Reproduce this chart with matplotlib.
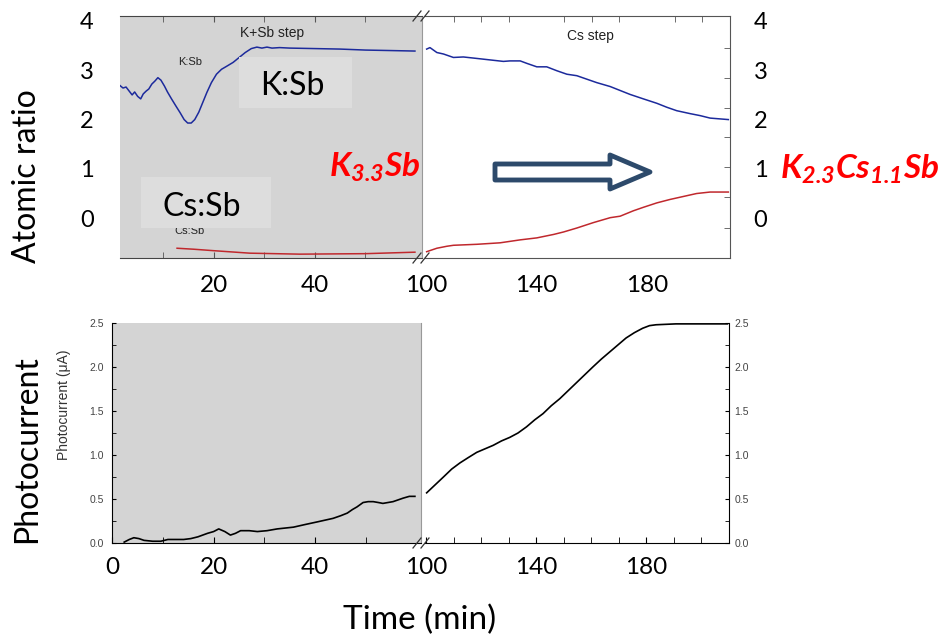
import numpy as np
import matplotlib.pyplot as plt
import matplotlib.patches as mpatches
from matplotlib.transforms import Affine2D
from matplotlib.lines import Line2D

plt.rcParams['mathtext.fontset'] = 'custom'
plt.rcParams['mathtext.rm'] = 'Lato:italic:bold'
plt.rcParams['mathtext.it'] = 'Lato:italic:bold'
plt.rcParams['mathtext.bf'] = 'Lato:italic:bold'

# K+Sb step, atomic ratio vs time (min)
ksb_t = [1.4, 2.0, 2.6, 3.2, 3.8, 4.3, 4.9, 5.5, 6.0, 6.6, 7.1, 7.7, 8.3, 8.9, 9.5, 10.2,
         10.8, 11.6, 12.5, 13.3, 14.1, 14.8, 15.5, 16.2, 17.0, 17.8, 18.6, 19.5, 20.5,
         21.5, 22.5, 23.8, 25.0, 26.2, 27.4, 28.5, 29.5, 30.5, 31.5, 33.0, 35.0, 40.0,
         45.0, 50.0, 55.0, 59.8]
ksb_k = [2.69, 2.64, 2.66, 2.58, 2.50, 2.56, 2.47, 2.42, 2.52, 2.58, 2.62, 2.72, 2.78,
         2.85, 2.80, 2.68, 2.56, 2.42, 2.27, 2.14, 2.00, 1.93, 1.93, 2.00, 2.15, 2.35,
         2.55, 2.75, 2.92, 3.02, 3.08, 3.16, 3.26, 3.36, 3.44, 3.47, 3.45, 3.47, 3.45,
         3.46, 3.45, 3.44, 3.43, 3.41, 3.40, 3.39]
ksb_cs_t = [12.7, 16.0, 20.0, 27.1, 37.0, 50.0, 59.8]
ksb_cs = [-0.61, -0.63, -0.66, -0.71, -0.73, -0.72, -0.69]

# Cs step
cs_t = [100.2, 101.4, 103.9, 106.3, 109.9, 113.5, 118.4, 123.2, 128.0, 130.4, 134.1,
        136.5, 140.1, 143.7, 147.4, 151.0, 154.6, 158.2, 161.8, 166.7, 170.3, 173.9,
        178.7, 183.6, 187.2, 190.8, 195.7, 199.3, 202.9, 209.5]
cs_k = [3.43, 3.46, 3.36, 3.33, 3.26, 3.27, 3.24, 3.21, 3.18, 3.19, 3.19,
        3.14, 3.07, 3.07, 2.99, 2.92, 2.89, 2.82, 2.75, 2.67, 2.59, 2.51,
        2.42, 2.33, 2.25, 2.18, 2.12, 2.08, 2.03, 2.00]
cs_cs_t = [100.2, 103.9, 107.5, 109.9, 118.4, 126.8, 134.1, 140.1, 146.2, 149.8, 154.6,
           160.6, 166.7, 170.3, 175.1, 178.7, 183.6, 188.4, 193.2, 198.0, 202.9, 209.5]
cs_cs = [-0.68, -0.61, -0.57, -0.55, -0.53, -0.50, -0.44, -0.40, -0.33, -0.28, -0.20,
         -0.09, 0.01, 0.04, 0.15, 0.22, 0.31, 0.38, 0.44, 0.50, 0.53, 0.53]
inner_ticks = [3.45, 2.85, 2.24, 1.64, 1.03, 0.42, -0.20]

# photocurrent (uA)
pc1_t = [2.4, 3.4, 4.3, 5.3, 6.3, 8.0, 9.6, 11.0, 12.5, 14.1, 15.5, 16.9, 18.8, 20.0,
         21.0, 22.2, 23.3, 24.3, 25.3, 27.0, 28.6, 30.5, 32.5, 35.7, 38.0, 40.4, 43.5,
         45.0, 46.3, 47.3, 48.2, 49.4, 50.4, 51.4, 52.4, 53.3, 55.3, 57.3, 58.5, 59.6]
pc1 = [0.01, 0.04, 0.06, 0.05, 0.03, 0.02, 0.02, 0.04, 0.04, 0.04, 0.05, 0.07, 0.11, 0.13,
       0.16, 0.13, 0.09, 0.11, 0.14, 0.14, 0.13, 0.14, 0.16, 0.18, 0.21, 0.24, 0.28,
       0.31, 0.34, 0.38, 0.41, 0.46, 0.47, 0.47, 0.46, 0.45, 0.47, 0.51, 0.53, 0.53]
pc2_t = [100.2, 106.3, 109.3, 112.3, 115.3, 118.4, 121.4, 124.4, 127.4, 130.4, 133.4,
         136.5, 139.5, 142.5, 145.5, 148.6, 151.6, 154.6, 157.6, 160.6, 163.7, 166.7,
         169.7, 172.7, 175.7, 178.7, 181.2, 183.6, 190.8, 209.5]
pc2 = [0.57, 0.75, 0.84, 0.91, 0.97, 1.03, 1.07, 1.11, 1.16, 1.20, 1.25,
       1.32, 1.40, 1.47, 1.56, 1.64, 1.73, 1.82, 1.91, 2.00, 2.09, 2.17,
       2.25, 2.33, 2.39, 2.44, 2.47, 2.48, 2.49, 2.49]

W, H = 948, 637
fig = plt.figure(figsize=(W / 100, H / 100), dpi=100)
px = Affine2D().scale(1 / W, -1 / H).translate(0, 1) + fig.transFigure

def box(l, t, r, b):
    return [l / W, 1 - b / H, (r - l) / W, (b - t) / H]

GRAY = '#d4d4d4'
BLUE = '#1c2a9c'
RED = '#c0282d'
BIG = 'Lato'
TICKFS = 17.5
ylim_top = (-0.808, 4.101)

# ---- top left (K+Sb step)
ax1 = fig.add_axes(box(120, 16, 422, 258), facecolor=GRAY)
ax1.plot(ksb_t, ksb_k, color=BLUE, lw=1.1)
ax1.plot(ksb_cs_t, ksb_cs, color=RED, lw=1.1)
ax1.set_xlim(1.4, 61.2)
ax1.set_ylim(*ylim_top)
ax1.set_xticks([20, 40])
ax1.set_xticklabels(['20', '40'], fontsize=TICKFS, family=BIG)
ax1.set_xticks([10, 30, 50], minor=True)
ax1.tick_params(axis='x', which='both', direction='in', top=True, length=4, color='#555', pad=12)
ax1.set_yticks([0, 1, 2, 3, 4])
ax1.set_yticklabels(['0', '1', '2', '3', '4'], fontsize=17, family=BIG)
ax1.tick_params(axis='y', length=0, pad=19)
ax1.spines['left'].set_visible(False)
for s in ['top', 'bottom']:
    ax1.spines[s].set_color('#444')
ax1.spines['right'].set_color('#999')

# ---- top right (Cs step)
ax2 = fig.add_axes(box(425, 16, 730, 258), facecolor='white')
ax2.plot(cs_t, cs_k, color=BLUE, lw=1.1)
ax2.plot(cs_cs_t, cs_cs, color=RED, lw=1.1)
ax2.set_xlim(99.6, 210.1)
ax2.set_ylim(*ylim_top)
ax2.set_xticks([100, 140, 180])
ax2.set_xticklabels(['100', '140', '180'], fontsize=TICKFS, family=BIG)
ax2.set_xticks([110, 120, 130, 150, 160, 170, 190, 200], minor=True)
ax2.tick_params(axis='x', which='both', direction='in', top=True, bottom=False,
                length=4, color='#555', pad=12)
ax2.tick_params(axis='x', which='major', length=0)
ax2.yaxis.tick_right()
ax2.set_yticks([0, 1, 2, 3, 4])
ax2.set_yticklabels(['0', '1', '2', '3', '4'], fontsize=17, family=BIG)
ax2.set_yticks(inner_ticks, minor=True)
ax2.tick_params(axis='y', which='major', length=0, pad=17)
ax2.tick_params(axis='y', which='minor', direction='in', length=4, color='#555')
ax2.spines['left'].set_visible(False)
for s in ['top', 'bottom', 'right']:
    ax2.spines[s].set_color('#555')

# ---- bottom left (photocurrent)
ax3 = fig.add_axes(box(112, 323, 421, 543), facecolor=GRAY)
ax3.plot(pc1_t, pc1, color='black', lw=1.2)
ax3.set_xlim(0.2, 60.8)
ax3.set_ylim(0, 2.5)
ax3.set_xticks([0, 20, 40])
ax3.set_xticklabels(['0', '20', '40'], fontsize=TICKFS, family=BIG)
ax3.set_xticks([10, 30, 50], minor=True)
ax3.tick_params(axis='x', which='both', direction='in', length=4, pad=10)
ax3.set_yticks(np.arange(0, 2.51, 0.5))
ax3.set_yticklabels(['0.0', '0.5', '1.0', '1.5', '2.0', '2.5'], fontsize=7.5, color='#444',
                    family='Liberation Sans')
ax3.set_yticks(np.arange(0.25, 2.5, 0.5), minor=True)
ax3.tick_params(axis='y', which='both', direction='in', length=3, pad=6)
ax3.spines['top'].set_visible(False)
ax3.spines['right'].set_color('#999')

# ---- bottom right
ax4 = fig.add_axes(box(425, 323, 729, 543), facecolor='white')
ax4.plot(pc2_t, pc2, color='black', lw=1.2)
ax4.set_xlim(99.6, 210.1)
ax4.set_ylim(0, 2.5)
ax4.set_xticks([100, 140, 180])
ax4.set_xticklabels(['100', '140', '180'], fontsize=TICKFS, family=BIG)
ax4.set_xticks([110, 120, 130, 150, 160, 170, 190, 200], minor=True)
ax4.tick_params(axis='x', which='both', direction='in', length=4, pad=10)
ax4.yaxis.tick_right()
ax4.set_yticks(np.arange(0, 2.51, 0.5))
ax4.set_yticklabels(['0.0', '0.5', '1.0', '1.5', '2.0', '2.5'], fontsize=7.5, color='#444',
                    family='Liberation Sans')
ax4.set_yticks(np.arange(0.25, 2.5, 0.5), minor=True)
ax4.tick_params(axis='y', which='both', direction='in', length=3, pad=4)
ax4.spines['top'].set_visible(False)
ax4.spines['left'].set_visible(False)

# ---- break marks
for y0 in [258, 16, 543]:
    for x0 in [417, 425]:
        fig.add_artist(Line2D([x0 - 4, x0 + 4], [y0 + 5, y0 - 5], transform=px,
                              color='#333', lw=0.9))

# ---- annotations
fig.text(64, 405, 'Photocurrent (μA)', transform=px, fontsize=10, family='Liberation Sans',
         color='#333', rotation=90, ha='center', va='center')
fig.text(190, 62, 'K:Sb', transform=px, fontsize=8, family='Liberation Sans',
         ha='center', va='center', color='#222')
fig.text(272, 33, 'K+Sb step', transform=px, fontsize=10, family='Liberation Sans',
         ha='center', va='center', color='#222')
fig.text(590, 36, 'Cs step', transform=px, fontsize=10, family='Liberation Sans',
         ha='center', va='center', color='#222')
fig.text(190, 231, 'Cs:Sb', transform=px, fontsize=8, family='Liberation Sans',
         ha='center', va='center', color='#222', zorder=1)
fig.add_artist(mpatches.Rectangle((239, 57), 113, 51, transform=px, facecolor='#dddddd',
                                  edgecolor='none', zorder=2))
fig.add_artist(mpatches.Rectangle((141, 177), 130, 51, transform=px, facecolor='#dddddd',
                                  edgecolor='none', zorder=2))
fig.text(292, 86, 'K:Sb', transform=px, fontsize=23, family=BIG, ha='center',
         va='center', zorder=3)
fig.text(202, 207, 'Cs:Sb', transform=px, fontsize=23, family=BIG, ha='center',
         va='center', zorder=3)
fig.text(375, 167, r'$\mathbf{K_{3.3}Sb}$', transform=px, fontsize=24, color='red',
         ha='center', va='center')
fig.text(860, 169, r'$\mathbf{K_{2.3}Cs_{1.1}Sb}$', transform=px, fontsize=24,
         color='red', ha='center', va='center')

arrow = [(495, 164), (610, 164), (610, 155), (650, 172), (610, 189), (610, 180), (495, 180)]
fig.add_artist(mpatches.Polygon(arrow, closed=True, transform=px, facecolor='white',
                                edgecolor='#2d4a6b', lw=3.5, joinstyle='round'))

fig.text(27, 176, 'Atomic ratio', transform=px, fontsize=23, family=BIG, rotation=90,
         ha='center', va='center')
fig.text(27, 449, 'Photocurrent', transform=px, fontsize=23, family=BIG, rotation=90,
         ha='center', va='center')
fig.text(420, 620, 'Time (min)', transform=px, fontsize=24, family=BIG,
         ha='center', va='center')

fig.savefig('out.png', dpi=100)
